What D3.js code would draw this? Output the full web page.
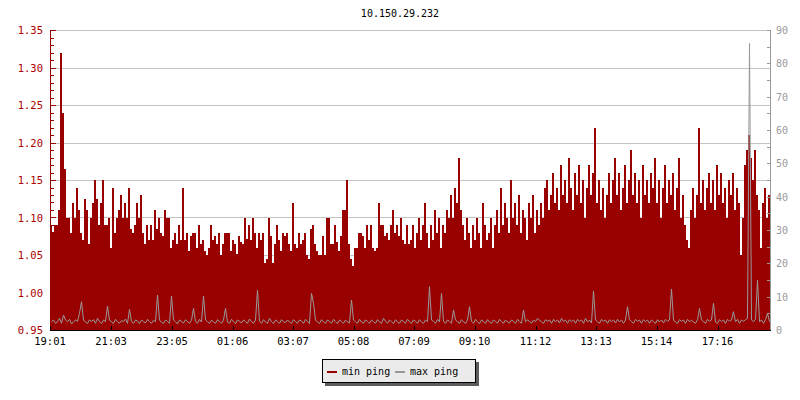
<!DOCTYPE html>
<html><head><meta charset="utf-8">
<script src="https://cdn.jsdelivr.net/npm/d3@7"></script>
<style>
body{margin:0;background:#fff}
svg{display:block}
text{font-family:"DejaVu Sans Mono","Liberation Mono",monospace;font-size:10px}
</style>
</head><body>
<svg id="c" width="800" height="400"></svg>
<script>
const chartTitle = "10.150.29.232";
const startTime = "2000-01-01T19:01:00";
const stepMinutes = 4;
const seriesNames = ["min ping", "max ping"];
const xTickLabels = ["19:01","21:03","23:05","01:06","03:07","05:08","07:09","09:10","11:12","13:13","15:14","17:16"];
const leftTickLabels = [0.95,1.00,1.05,1.10,1.15,1.20,1.25,1.30,1.35];
const rightTickLabels = [0,10,20,30,40,50,60,70,80,90];

// min ping (left axis), one value per 4 minutes
const minPing = [
1.09,1.08,1.09,1.09,1.11,1.32,1.24,1.165,1.10,1.10,1.08,1.12,1.10,1.14,1.11,1.08,1.07,1.125,1.11,1.065,1.10,1.12,1.15,1.125,1.09,1.12,1.15,1.09,1.09,1.10,1.06,1.14,1.08,1.10,1.11,1.13,1.10,1.12,1.10,1.14,1.085,1.08,1.09,1.12,1.10,
1.13,1.08,1.065,1.09,1.07,1.09,1.07,1.11,1.085,1.10,1.08,1.075,1.11,1.10,1.10,1.06,1.07,1.08,1.065,1.09,1.07,1.14,1.07,1.08,1.055,1.075,1.08,1.08,1.06,1.09,1.065,1.07,1.055,1.05,1.06,1.09,1.07,1.075,1.065,1.08,1.05,1.065,1.08,1.08,1.08,
1.055,1.07,1.065,1.052,1.075,1.068,1.065,1.10,1.072,1.09,1.07,1.10,1.08,1.06,1.08,1.07,1.08,1.04,1.045,1.10,1.075,1.04,1.065,1.09,1.07,1.055,1.08,1.075,1.08,1.065,1.055,1.12,1.065,1.06,1.08,1.065,1.07,1.08,1.05,1.045,1.085,1.09,1.065,1.055,1.05,
1.05,1.075,1.05,1.10,1.10,1.065,1.065,1.09,1.068,1.055,1.075,1.11,1.11,1.15,1.065,1.045,1.035,1.06,1.06,1.08,1.08,1.075,1.06,1.09,1.07,1.09,1.06,1.055,1.06,1.12,1.09,1.09,1.075,1.08,1.07,1.09,1.11,1.08,1.09,1.075,1.10,1.07,1.065,1.09,1.065,
1.07,1.09,1.06,1.08,1.10,1.07,1.09,1.12,1.08,1.06,
1.09,1.07,1.11,1.08,1.10,1.06,1.09,1.08,1.11,1.10,
1.13,1.10,1.14,1.12,1.18,1.11,1.09,1.07,1.10,1.08,
1.06,1.09,1.07,1.10,1.08,1.06,1.12,1.09,1.07,1.08,
1.10,1.06,1.09,1.11,1.08,1.14,1.09,1.12,1.10,1.08,
1.15,1.10,1.12,1.09,1.13,1.08,1.11,1.10,1.07,1.12,
1.10,1.13,1.08,1.11,1.09,1.12,1.10,1.14,1.15,1.11,
1.13,1.16,1.12,1.14,1.11,1.17,1.13,1.15,1.12,1.18,
1.14,1.11,1.16,1.13,1.17,1.12,1.15,1.10,1.14,1.17,
1.13,1.16,1.22,1.12,1.15,1.11,1.14,1.10,1.13,1.16,
1.12,1.15,1.18,1.13,1.16,1.11,1.14,1.17,1.12,1.15,
1.19,1.13,1.16,1.12,1.15,1.10,1.17,1.13,1.15,1.12,
1.16,1.14,1.18,1.12,1.15,1.10,1.14,1.17,1.12,1.15,
1.13,1.16,1.11,1.14,1.18,1.10,1.13,1.09,1.07,1.06,
1.11,1.14,1.10,1.13,1.22,1.12,1.15,1.11,1.14,1.16,
1.12,1.15,1.11,1.17,1.13,1.16,1.12,1.14,1.10,1.15,
1.13,1.16,1.11,1.14,1.12,1.05,1.10,1.17,1.19,1.21,
1.18,1.15,1.19,1.13,1.11,1.06,1.12,1.14,1.10,1.13
];

// max ping (right axis), one value per 4 minutes
const maxPing = [
2.5,3,2,2.5,3.5,2,4.5,3,2.5,3.2,1.8,2.5,3,2.6,5,8.5,3,2.4,2,3,
2.6,3.1,2,3.5,2.5,1.9,3,2.5,7.2,3,2.4,2,3.2,2.5,2,2.8,2.5,3.3,2,6.2,
2.5,2,3,2.7,1.9,3,2.5,2.1,3.2,2.5,2,2.9,2.5,10.5,3,2.3,2,3,2.6,2,
10.2,3,2.5,1.8,3,2.6,2.1,3.1,2.5,2,2.9,6.5,2.5,2,3.2,2.4,10.2,3,2.5,2,
3,2.4,2,3.1,2.6,2,3,6.5,2.4,2,3.2,2.5,1.9,3,2.6,2.1,3,2.5,2,3.3,
2.5,2,3,12,2.6,2,3.1,2.4,2,3.5,2.5,1.9,3,2.6,2,3.1,2.5,2.2,3,2.4,
2,3.1,2.5,2,3,2.7,2,3.2,2.5,1.9,11,8,3,2.4,2,3.1,2.5,2,3,2.6,
2,3.2,2.5,1.9,3,2.6,2,3,2.4,2.1,9,3,2.5,2,3.2,2.4,2,3,2.6,2,
3,2.5,2,3.1,2.4,2,3.5,2.6,2,3,2.5,1.9,3.1,2.4,2,3,2.6,2,3.2,2.5,
2,3,2.6,2,3.1,2.4,2,3,2.5,13,3,2.6,2,3.2,2.4,11,2.5,2,3,2.6,
2,6,3,2.5,2,3.1,2.4,2,3,7,2.6,2,3.2,2.5,1.9,3,2.6,2,3.1,2.4,
2,3,2.6,2,3.2,2.5,2,3,2.4,2.1,3,2.6,2,3.2,2.5,2,6,2.5,3,2.6,
2,3,2.5,3.5,3,2.4,2,3.1,2.6,3,2,3.2,2.5,3,2.1,3.5,2.5,3,2,3.1,
2.5,3,2,3.2,2.6,3,2,3.5,2.4,3,2.1,11.7,3,2.5,2,3.2,2.6,3,2,3.1,
2.5,3,2.1,3.2,2.4,3,2,3,7,3.1,2.5,2,3.2,2.6,3,2,3.1,2.5,3,2,
3,2.5,2,3.1,2.4,3,2.1,3.2,2.6,3,12.3,3,2.4,2,3.1,2.6,3,2,3.2,2.5,
3,2.4,2,3.1,6.5,3,2.5,2,3.2,2.6,3,8,2.4,2,3.1,2.5,3,2,3.2,2.6,
3,5.5,2.5,3.2,2,3,2.6,3.1,3.5,86,3,2.5,3.2,15,2.5,3,2,3.1,5,2.5
];

const svg = d3.select("#c");
const red = "#990000", grey = "#999999";
const X0 = 50, X1 = 770, YB = 330, YT = 30;

const t0 = new Date(startTime);
const tEnd = d3.timeMinute.offset(t0, 24 * 60);
const x = d3.scaleTime().domain([t0, tEnd]).range([X0, X1]);
const y = d3.scaleLinear().domain([0.95, 1.35]).range([YB, YT]);
const y2 = d3.scaleLinear().domain([0, 90]).range([YB, YT]);

const toPts = arr => arr.map((v, i) => ({t: d3.timeMinute.offset(t0, i * stepMinutes), v}));
const minPts = toPts(minPing);
minPts.push({t: tEnd, v: minPing[minPing.length - 1]});
const maxPts = toPts(maxPing);

// title
svg.append("text").attr("x", 400).attr("y", 17).attr("text-anchor", "middle").attr("fill", "#000").text(chartTitle);

// grid
svg.append("g").selectAll("line").data(leftTickLabels.slice(1)).join("line")
  .attr("x1", X0).attr("x2", X1)
  .attr("y1", d => Math.round(y(d)) + 0.5).attr("y2", d => Math.round(y(d)) + 0.5)
  .attr("stroke", "#c4c4c4").attr("stroke-width", 1);

// min ping area
svg.append("path").datum(minPts)
  .attr("d", d3.area().curve(d3.curveStepAfter).x(d => x(d.t)).y0(YB).y1(d => y(d.v)))
  .attr("fill", red).attr("shape-rendering", "crispEdges");

// max ping line
svg.append("path").datum(maxPts)
  .attr("d", d3.line().x(d => Math.round(x(d.t) + 1) + 0.5).y(d => y2(d.v)))
  .attr("fill", "none").attr("stroke", grey).attr("stroke-width", 1);

// left axis
const gl = svg.append("g").attr("shape-rendering", "crispEdges");
gl.append("line").attr("x1", X0 + 0.5).attr("x2", X0 + 0.5).attr("y1", YT).attr("y2", YB + 1).attr("stroke", red);
gl.selectAll(".mn").data(y.ticks(40)).join("line")
  .attr("x1", X0).attr("x2", X0 + 4)
  .attr("y1", d => Math.round(y(d)) + 0.5).attr("y2", d => Math.round(y(d)) + 0.5).attr("stroke", red);
gl.selectAll(".mj").data(leftTickLabels).join("line")
  .attr("x1", X0).attr("x2", X0 + 6)
  .attr("y1", d => Math.round(y(d)) + 0.5).attr("y2", d => Math.round(y(d)) + 0.5).attr("stroke", red);
gl.selectAll("text").data(leftTickLabels).join("text")
  .attr("x", 43).attr("y", d => y(d) + 4).attr("text-anchor", "end").attr("fill", "#aa0000")
  .style("font-size", "10.5px")
  .text(d => d.toFixed(2));

// right axis
const gr = svg.append("g").attr("shape-rendering", "crispEdges");
gr.append("line").attr("x1", X1 + 0.5).attr("x2", X1 + 0.5).attr("y1", YT).attr("y2", YB + 1).attr("stroke", grey);
gr.selectAll(".mn").data(y2.ticks(18)).join("line")
  .attr("x1", X1 - 3).attr("x2", X1 + 1)
  .attr("y1", d => Math.round(y2(d)) + 0.5).attr("y2", d => Math.round(y2(d)) + 0.5).attr("stroke", grey);
gr.selectAll("text").data(rightTickLabels).join("text")
  .attr("x", 776).attr("y", d => y2(d) + 4).attr("text-anchor", "start").attr("fill", "#999999")
  .text(d => d);

// x axis
const parseLbl = s => {
  const [h, m] = s.split(":").map(Number);
  let d = new Date(t0); d.setHours(h, m, 0, 0);
  if (d < t0) d = d3.timeDay.offset(d, 1);
  return d;
};
const gx = svg.append("g").attr("shape-rendering", "crispEdges");
gx.append("line").attr("x1", X0).attr("x2", X1 + 1).attr("y1", YB + 0.5).attr("y2", YB + 0.5).attr("stroke", "#000");
gx.selectAll(".tk").data(xTickLabels).join("line")
  .attr("x1", d => Math.round(x(parseLbl(d))) + 0.5).attr("x2", d => Math.round(x(parseLbl(d))) + 0.5)
  .attr("y1", YB - 4).attr("y2", YB).attr("stroke", "#000");
gx.selectAll("text").data(xTickLabels).join("text")
  .attr("x", d => x(parseLbl(d))).attr("y", 345).attr("text-anchor", "middle").attr("fill", "#000")
  .style("font-size", "10.5px")
  .text(d => d);

// legend
const lg = svg.append("g").attr("shape-rendering", "crispEdges");
lg.append("rect").attr("x", 325).attr("y", 362).attr("width", 154).attr("height", 24).attr("fill", "#5c5c5c");
lg.append("rect").attr("x", 322.5).attr("y", 359.5).attr("width", 153).attr("height", 23).attr("fill", "#ebebeb").attr("stroke", "#000");
const legColors = [red, grey];
const legX = [327, 395];
seriesNames.forEach((n, i) => {
  lg.append("rect").attr("x", legX[i]).attr("y", 371).attr("width", 10).attr("height", 2).attr("fill", legColors[i]);
  lg.append("text").attr("x", legX[i] + 15).attr("y", 375).attr("fill", "#000").text(n);
});
</script>
</body></html>
